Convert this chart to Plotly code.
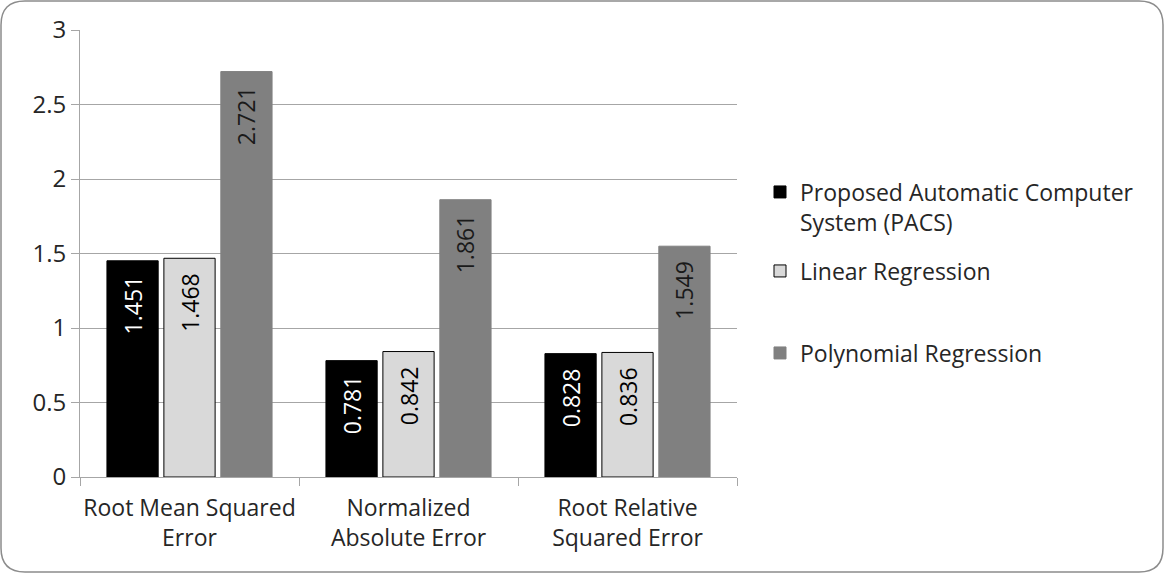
import plotly.graph_objects as go

categories = ["Root Mean Squared<br>Error", "Normalized<br>Absolute Error", "Root Relative<br>Squared Error"]
series_names = ["Proposed Automatic Computer<br>System (PACS)", "Linear Regression", "Polynomial Regression"]
pacs = [1.451, 0.781, 0.828]
linear = [1.468, 0.842, 0.836]
poly = [2.721, 1.861, 1.549]
y_ticks = [0, 0.5, 1, 1.5, 2, 2.5, 3]
y_tick_labels = ["0", "0.5", "1", "1.5", "2", "2.5", "3"]

W, H = 1165, 574
L, R, T, B = 80, 1165 - 737, 30, 574 - 477
pw, ph = W - L - R, H - T - B

FONT = "Open Sans"
TXT = "#262626"
fig = go.Figure()
styles = [
    dict(color="#000000", line=dict(color="#000000", width=1), tc="#FFFFFF"),
    dict(color="#D9D9D9", line=dict(color="#000000", width=1), tc="#000000"),
    dict(color="#808080", line=dict(color="#808080", width=1), tc="#1A1A1A"),
]
legend_ids = ["legend", "legend2", "legend3"]
for i, (name, vals) in enumerate(zip(series_names, [pacs, linear, poly])):
    s = styles[i]
    fig.add_trace(go.Bar(
        x=categories, y=vals, name=name,
        marker=dict(color=s["color"], line=s["line"]),
        text=[f"{v:.3f}\u00a0\u00a0" for v in vals], textposition="inside",
        insidetextanchor="end", textangle=-90,
        insidetextfont=dict(family=FONT, size=23, color=s["tc"]),
        legend=legend_ids[i],
    ))

def px2paper(x, y):
    return (x - L) / pw, (H - B - y) / ph

x0, y0 = 1, 1
x1, y1 = W - 2, H - 2
r = 24
def P(x, y):
    a, b = px2paper(x, y)
    return f"{a:.5f},{b:.5f}"
path = (f"M {P(x0 + r, y0)} L {P(x1 - r, y0)} Q {P(x1, y0)} {P(x1, y0 + r)} "
        f"L {P(x1, y1 - r)} Q {P(x1, y1)} {P(x1 - r, y1)} "
        f"L {P(x0 + r, y1)} Q {P(x0, y1)} {P(x0, y1 - r)} "
        f"L {P(x0, y0 + r)} Q {P(x0, y0)} {P(x0 + r, y0)} Z")
fig.add_shape(type="path", path=path, xref="paper", yref="paper",
              line=dict(color="#8C8C8C", width=1.5), layer="below")

lx, _ = px2paper(760, 0)
def leg(ycenter_px, valign="middle"):
    _, yp = px2paper(0, ycenter_px)
    return dict(x=lx, y=yp, xanchor="left", yanchor="middle", valign=valign,
                font=dict(family=FONT, size=23, color=TXT), itemwidth=30,
                bgcolor="rgba(0,0,0,0)")

fig.update_layout(
    width=W, height=H,
    margin=dict(l=L, r=R, t=T, b=B, autoexpand=False),
    paper_bgcolor="white", plot_bgcolor="white",
    barmode="group", bargap=0.22, bargroupgap=0.1,
    font=dict(family=FONT, size=23, color=TXT),
    showlegend=True,
    legend=leg(207, "top"), legend2=leg(271), legend3=leg(353),
    xaxis=dict(showline=True, linecolor="#A6A6A6", linewidth=1,
               ticks="outside", tickson="boundaries", ticklen=8, tickcolor="#A6A6A6",
               ticklabelstandoff=10, tickangle=0, automargin=False,
               tickfont=dict(family=FONT, size=23, color=TXT), showgrid=False),
    yaxis=dict(range=[0, 3], tickvals=y_ticks, ticktext=y_tick_labels,
               showline=True, linecolor="#A6A6A6", linewidth=1,
               ticks="outside", ticklen=8, tickcolor="#A6A6A6", automargin=False,
               showgrid=True, gridcolor="#A6A6A6", gridwidth=1,
               tickfont=dict(family=FONT, size=24, color=TXT), zeroline=False),
)
fig.write_html("out.html", config={"displayModeBar": False},
               post_script="document.body.style.margin='0';")
